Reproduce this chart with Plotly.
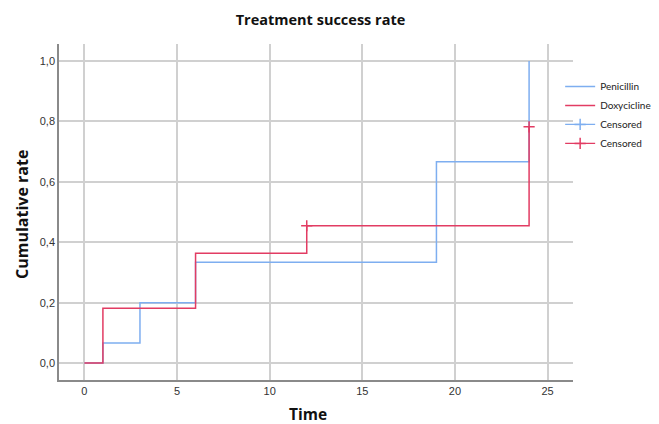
import plotly.graph_objects as go

# Data
pen_time = [0, 1, 3, 6, 19, 24]
pen_rate = [0.0, 0.0667, 0.2, 0.3333, 0.6667, 1.0]
doxy_time = [0, 1, 6, 12, 24]
doxy_rate = [0.0, 0.1818, 0.3636, 0.4545, 0.7818]
pen_cens_time = [None]
pen_cens_rate = [None]
doxy_cens_time = [12, None, 24]
doxy_cens_rate = [0.4545, None, 0.7818]

x_ticks = [0, 5, 10, 15, 20, 25]
y_ticks = [0.0, 0.2, 0.4, 0.6, 0.8, 1.0]
y_tick_labels = ["0,0", "0,2", "0,4", "0,6", "0,8", "1,0"]

BLUE = "#7EAEF0"
RED = "#E23C63"

# page body has an 8px margin, so the figure is sized to fit the 659x424 window
W, H = 651, 416
ML, MT = 51, 36
MR = W - 565
MB = H - 372

fig = go.Figure()
fig.add_trace(go.Scatter(x=pen_time, y=pen_rate, mode="lines", line_shape="hv",
                         line=dict(color=BLUE, width=1.5), name="Penicillin"))
fig.add_trace(go.Scatter(x=doxy_time, y=doxy_rate, mode="lines", line_shape="hv",
                         line=dict(color=RED, width=1.5), name="Doxycicline"))
fig.add_trace(go.Scatter(x=pen_cens_time, y=pen_cens_rate, mode="lines+markers",
                         line=dict(color=BLUE, width=1.2),
                         marker=dict(symbol="cross-thin", size=8, line=dict(color=BLUE, width=1.5)),
                         name="Censored", connectgaps=False))
fig.add_trace(go.Scatter(x=doxy_cens_time, y=doxy_cens_rate, mode="lines+markers",
                         line=dict(color=RED, width=1.2),
                         marker=dict(symbol="cross-thin", size=8, line=dict(color=RED, width=1.5)),
                         name="Censored", connectgaps=False))

fig.update_layout(
    width=W, height=H,
    margin=dict(l=ML, r=MR, t=MT, b=MB, autoexpand=False),
    paper_bgcolor="white", plot_bgcolor="white",
    title=dict(text="<b>Treatment success rate</b>", x=0.48, xanchor="center", y=1 - 12 / H, yanchor="middle",
               font=dict(family="Open Sans", size=14.5, color="#111")),
    xaxis=dict(range=[-1.37, 26.37], tickvals=x_ticks, ticktext=[str(v) for v in x_ticks],
               showgrid=True, gridcolor="#D0D0D0", gridwidth=1.5, zeroline=False,
               showline=True, linecolor="#8A8A8A", linewidth=1.5,
               ticks="", tickfont=dict(family="Liberation Sans", size=11, color="#333")),
    yaxis=dict(range=[-0.056, 1.056], tickvals=y_ticks, ticktext=y_tick_labels,
               showgrid=True, gridcolor="#D0D0D0", gridwidth=1.5, zeroline=False,
               showline=True, linecolor="#8A8A8A", linewidth=1.5,
               ticks="", tickfont=dict(family="Liberation Sans", size=11, color="#333")),
    legend=dict(x=0.975, y=0.917, xanchor="left", yanchor="top", itemwidth=30,
                font=dict(family="Lato", size=10, color="#222"),
                bgcolor="rgba(0,0,0,0)", tracegroupgap=0),
    showlegend=True,
    annotations=[
        dict(text="<b>Time</b>", xref="paper", yref="paper", x=0.5, y=0, xanchor="center", yanchor="middle",
             xshift=-8, yshift=-34, showarrow=False,
             font=dict(family="Open Sans", size=15.5, color="#111")),
        dict(text="<b>Cumulative rate</b>", xref="paper", yref="paper", x=0, y=0.5, xanchor="center",
             yanchor="middle", textangle=-90, xshift=-(ML - 14), yshift=-3, showarrow=False,
             font=dict(family="Open Sans", size=16, color="#111")),
    ],
)

fig.write_html("out.html")
